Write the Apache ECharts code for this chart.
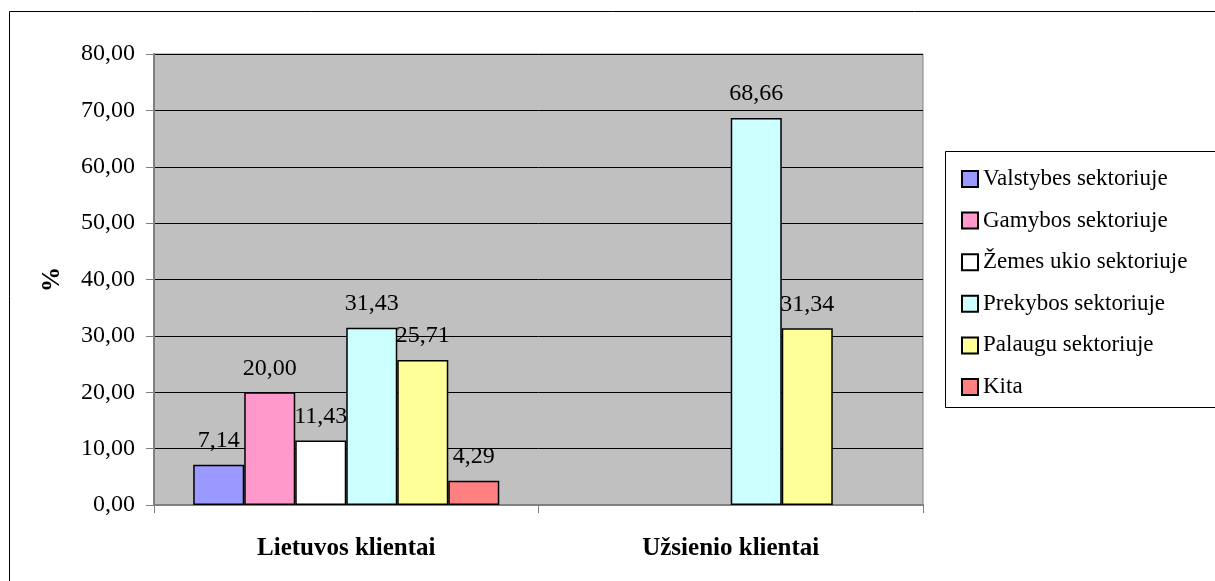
<!DOCTYPE html>
<html>
<head>
<meta charset="utf-8">
<script src="https://cdn.jsdelivr.net/npm/echarts@6/dist/echarts.min.js"></script>
<style>
  html, body { margin: 0; padding: 0; background: #fff; }
  #chart { width: 1215px; height: 581px; }
</style>
</head>
<body>
<div id="chart"></div>
<script>
// Client groups on the category axis
const categories = ['Lietuvos klientai', 'Užsienio klientai'];

// Share of clients by sector, %
const seriesNames = [
  'Valstybes sektoriuje',
  'Gamybos sektoriuje',
  'Žemes ukio sektoriuje',
  'Prekybos sektoriuje',
  'Palaugu sektoriuje',
  'Kita'
];
const valstybes = [7.14, null];
const gamybos = [20.00, null];
const zemesUkio = [11.43, null];
const prekybos = [31.43, 68.66];
const palaugu = [25.71, 31.34];
const kita = [4.29, null];

const seriesValues = [valstybes, gamybos, zemesUkio, prekybos, palaugu, kita];
const seriesColors = ['#9999FF', '#FF99CC', '#FFFFFF', '#CCFFFF', '#FFFF99', '#FF8080'];

const FONT = '"Liberation Serif", "Times New Roman", serif';
const fmt = v => Number(v).toFixed(2).replace('.', ',');

const chart = echarts.init(document.getElementById('chart'), null, { renderer: 'canvas' });

chart.setOption({
  backgroundColor: '#ffffff',
  animation: false,
  textStyle: { fontFamily: FONT, color: '#000' },
  graphic: [
    {
      type: 'rect',
      shape: { x: 9.5, y: 11.5, width: 1300, height: 700 },
      style: { fill: 'none', stroke: '#000', lineWidth: 1 },
      silent: true,
      z: -10
    },
    {
      type: 'rect',
      shape: { x: 945.5, y: 151.5, width: 400, height: 256 },
      style: { fill: '#fff', stroke: '#000', lineWidth: 1 },
      silent: true,
      z: -5
    }
  ],
  legend: {
    orient: 'vertical',
    left: 956,
    top: 162,
    itemWidth: 16,
    itemHeight: 16,
    itemGap: 17.6,
    itemTextGap: 6,
    icon: 'rect',
    textStyle: { fontFamily: FONT, fontSize: 23, color: '#000', lineHeight: 24 },
    data: seriesNames
  },
  grid: {
    left: 154,
    top: 54,
    right: 292,
    bottom: 76,
    show: true,
    backgroundColor: '#C0C0C0',
    borderColor: '#808080',
    borderWidth: 1,
    containLabel: false
  },
  xAxis: {
    type: 'category',
    data: categories,
    axisLine: { show: true, lineStyle: { color: '#808080', width: 2 } },
    axisTick: { show: true, length: 8, lineStyle: { color: '#808080', width: 1 } },
    axisLabel: {
      margin: 31,
      fontFamily: FONT,
      fontSize: 25,
      fontWeight: 'bold',
      color: '#000'
    }
  },
  yAxis: {
    type: 'value',
    min: 0,
    max: 80,
    interval: 10,
    name: '%',
    nameLocation: 'middle',
    nameGap: 89,
    nameRotate: 90,
    nameTextStyle: { fontFamily: FONT, fontSize: 25, fontWeight: 'bold', color: '#000' },
    axisLine: { show: true, lineStyle: { color: '#808080', width: 2 } },
    axisTick: { show: true, length: 8, lineStyle: { color: '#808080', width: 1 } },
    axisLabel: {
      margin: 19,
      fontFamily: FONT,
      fontSize: 24,
      color: '#000',
      formatter: v => fmt(v)
    },
    splitLine: { show: true, lineStyle: { color: '#000', width: 1 } }
  },
  series: seriesNames.map((name, i) => ({
    name: name,
    type: 'bar',
    data: seriesValues[i],
    barGap: '0%',
    barCategoryGap: '20.4%',
    itemStyle: { color: seriesColors[i], borderColor: '#000', borderWidth: 1.5 },
    label: {
      show: true,
      position: 'top',
      distance: 12,
      fontFamily: FONT,
      fontSize: 24,
      color: '#000',
      formatter: p => fmt(p.value)
    }
  }))
});
</script>
</body>
</html>
